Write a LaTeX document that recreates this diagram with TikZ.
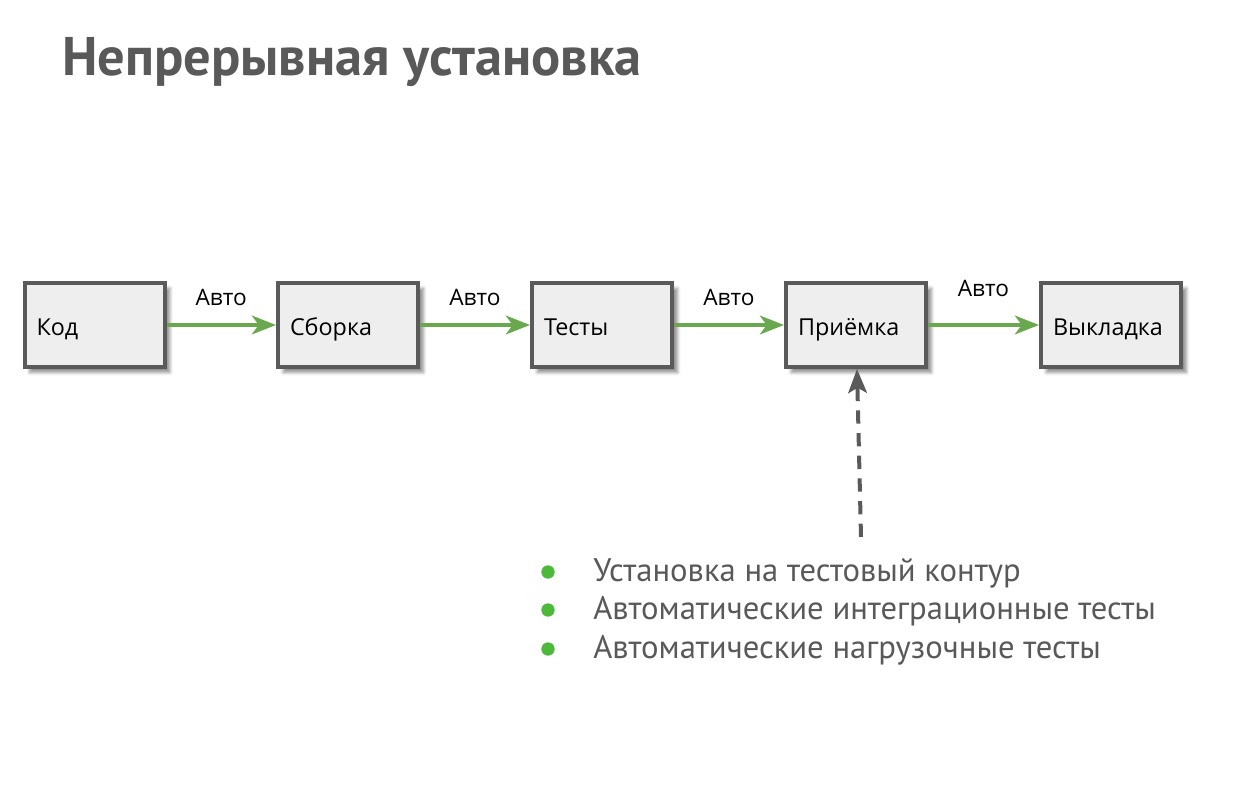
\documentclass[tikz,border=0pt]{standalone}
\usepackage{fontspec}
\setmainfont{Open Sans}
\newfontfamily\ptsans{PT Sans}
\usetikzlibrary{arrows.meta,shadows.blur}
\definecolor{boxgray}{HTML}{5A5A5A}
\definecolor{boxfill}{HTML}{EEEEEE}
\definecolor{autogreen}{HTML}{6AA84F}
\definecolor{dotgreen}{HTML}{4DB93A}
\definecolor{textgray}{HTML}{595959}
\begin{document}
\begin{tikzpicture}[x=0.75pt,y=-0.75pt]
  \tikzstyle{stage}=[draw=boxgray,line width=3pt,fill=boxfill,minimum width=105pt,minimum height=63pt,
    text width=87pt,text height=17pt,text depth=1pt,align=left,inner xsep=9pt,font=\fontsize{17.5}{21}\selectfont,
    blur shadow={shadow xshift=4pt,shadow yshift=-4pt,shadow blur radius=2.5pt,shadow opacity=45}]
  \tikzstyle{auto}=[draw=autogreen,line width=3pt,-{Stealth[length=18pt,width=14pt,inset=5pt]}]
  \tikzstyle{autolabel}=[midway,anchor=base,font=\fontsize{17}{20}\selectfont,text=black]
  \tikzstyle{manual}=[draw=boxgray,line width=3pt,dash pattern=on 10pt off 7pt,-{Stealth[length=18pt,width=14pt,inset=4pt]}]
  \tikzstyle{dot}=[circle,fill=dotgreen,minimum size=10pt,inner sep=0pt]
  \tikzstyle{item}=[anchor=base west,inner sep=0pt,text=textgray,font=\ptsans\fontsize{24.5}{29}\selectfont]
  \useasboundingbox (0,0) rectangle (1236,792);

  % title
  \node[anchor=base west,inner sep=0pt,text=textgray,font=\ptsans\bfseries\fontsize{40.8}{48}\selectfont] (title) at (62,76) {Непрерывная установка};

  % stages
  \node[stage] (kod)      at (94.5,325)  {Код};
  \node[stage] (sborka)   at (348,325)   {Сборка};
  \node[stage] (testy)    at (602,325)   {Тесты};
  \node[stage] (priemka)  at (856,325)   {Приёмка};
  \node[stage] (vykladka) at (1111,325)  {Выкладка};

  % automatic steps
  \draw[auto] (kod) -- node[autolabel,yshift=14.6pt] {Авто} (sborka);
  \draw[auto] (sborka) -- node[autolabel,yshift=14.6pt] {Авто} (testy);
  \draw[auto] (testy) -- node[autolabel,yshift=14.6pt] {Авто} (priemka);
  \draw[auto] (priemka) -- node[autolabel,yshift=21.4pt] {Авто} (vykladka);

  % acceptance checks
  \coordinate (checks) at (861,537);
  \draw[manual] (checks) -- ([xshift=0.75pt]priemka.south);

  \node[dot] (dot1) at (548,572) {};
  \node[dot] (dot2) at (548,610) {};
  \node[dot] (dot3) at (548,649) {};
  \node[item] (item1) at (593,581) {Установка на тестовый контур};
  \node[item] (item2) at (593,619) {Автоматические интеграционные тесты};
  \node[item] (item3) at (593,658) {Автоматические нагрузочные тесты};
\end{tikzpicture}
\end{document}
